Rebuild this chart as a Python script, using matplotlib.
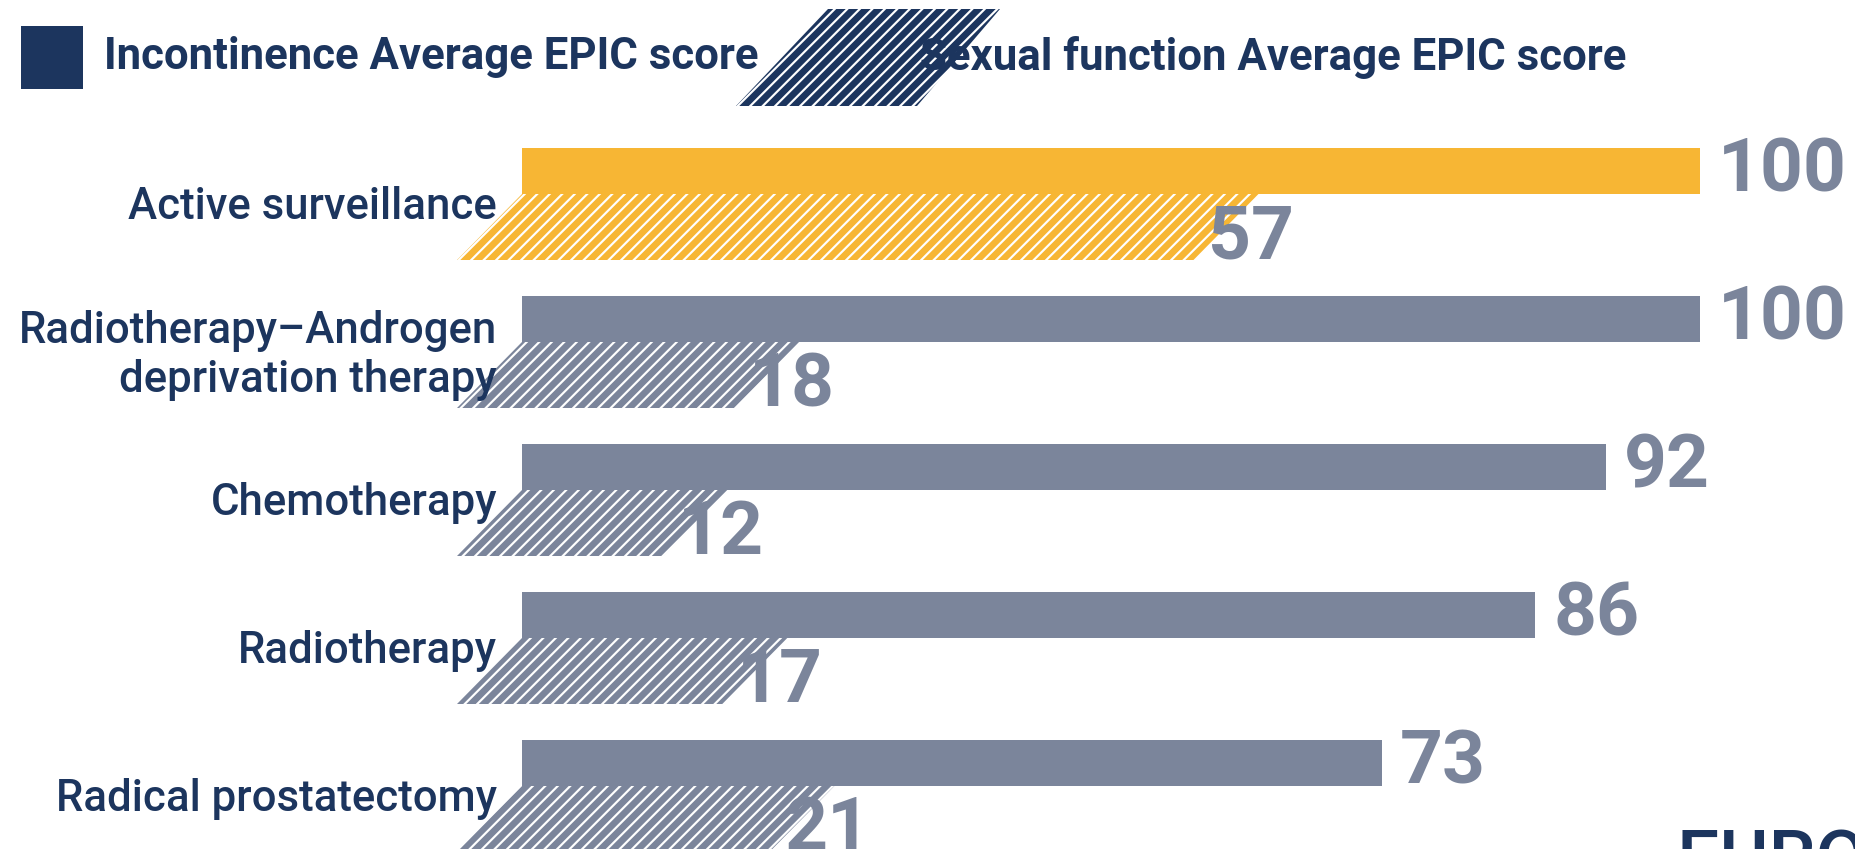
import matplotlib
matplotlib.use("Agg")
import matplotlib.pyplot as plt
from matplotlib.patches import Polygon, Rectangle

# data
categories = ["Active surveillance",
              "Radiotherapy\u2013Androgen\ndeprivation therapy",
              "Chemotherapy",
              "Radiotherapy",
              "Radical prostatectomy"]
incontinence = [100, 100, 92, 86, 73]
sexual = [57, 18, 12, 17, 21]
highlight = "Active surveillance"

NAVY = "#1c355e"
GRAY = "#7b859b"
YELLOW = "#f7b634"

plt.rcParams["font.family"] = ["Roboto", "DejaVu Sans"]
plt.rcParams["hatch.linewidth"] = 3.2

W, H, DPI = 1855, 849, 150
fig = plt.figure(figsize=(W / DPI, H / DPI), dpi=DPI)

# main axes fills the figure; x in score points, y in rows
px = 11.78      # pixels per score point
x0 = 522        # pixel where score 0 sits
row = 148       # pixels per row
y0 = 171        # pixel centre of first bar
ax = fig.add_axes([0, 0, 1, 1])
ax.set_xlim(-x0 / px, (W - x0) / px)
ax.set_ylim((H - y0) / row, -y0 / row)
ax.axis("off")

solid_h = 46 / row
hatch_h = 66 / row
skew = 65 / px

for i, (cat, inc, sex) in enumerate(zip(categories, incontinence, sexual)):
    col = YELLOW if cat == highlight else GRAY
    ax.barh(i, inc, height=solid_h, left=0, color=col, lw=0)
    top = i + solid_h / 2
    bot = top + hatch_h
    ax.add_patch(Polygon([(0, top), (sex + skew, top), (sex, bot), (-skew, bot)],
                         closed=True, facecolor="none", edgecolor=col,
                         hatch="////", lw=0))
    ax.text(inc + 18 / px, i, str(inc), ha="left", va="center",
            fontsize=36, fontweight="bold", color=GRAY)
    ax.text(sex + 15 / px, top + hatch_h / 2 + 0.075, str(sex), ha="left", va="center",
            fontsize=36, fontweight="bold", color=GRAY)
    ax.text(-25 / px, i + 0.245, cat, ha="right", va="center", multialignment="right",
            fontsize=21, fontweight="medium", color=NAVY, linespacing=1.2)

# legend and logo in pixel coordinates
lg = fig.add_axes([0, 0, 1, 1])
lg.set_xlim(0, W)
lg.set_ylim(H, 0)
lg.axis("off")
lg.add_patch(Rectangle((21, 26), 62, 63, color=NAVY, lw=0))
lg.text(104, 57, "Incontinence Average EPIC score", ha="left", va="center",
        fontsize=21, fontweight="bold", color=NAVY)
lg.add_patch(Polygon([(828, 9), (1000, 9), (917, 106), (736, 106)], closed=True,
                     facecolor="none", edgecolor=NAVY, hatch="////", lw=0))
lg.text(920, 57, "Sexual function Average EPIC score", ha="left", va="center",
        fontsize=21, fontweight="bold", color=NAVY)
lg.text(1677, 828, "EUROPA UOMO", ha="left", va="top",
        fontsize=36, fontweight="medium", color=NAVY)

fig.savefig("out.png", dpi=DPI)
